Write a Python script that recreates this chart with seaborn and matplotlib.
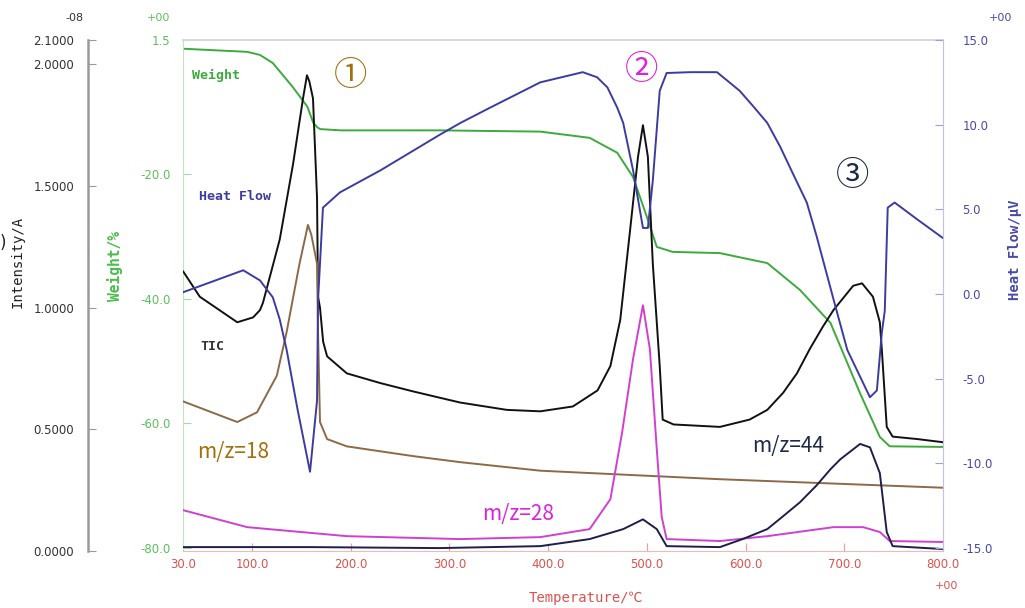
import numpy as np
import pandas as pd
import matplotlib
matplotlib.use("Agg")
import matplotlib.pyplot as plt
import seaborn as sns

# values
wt_temp = [30, 95, 108, 121, 141, 148, 156, 162, 166, 169, 190, 290, 392, 442, 470, 486,
           500, 510, 526, 574, 622, 655, 686, 716, 736, 746, 800]
wt_pct = [0.1, -0.4, -0.9, -2.2, -6.0, -7.5, -9.2, -11.8, -12.5, -12.8, -13.0, -13.0, -13.2,
          -14.2, -16.6, -20.5, -26.9, -31.7, -32.5, -32.7, -34.3, -38.6, -43.9, -55.2,
          -62.2, -63.7, -63.8]

hf_temp = [30, 91, 108, 121, 128, 135, 146, 158.7, 165.8, 166.8, 171.8, 189, 230, 290, 311,
           341, 392, 435, 449.5, 460, 470, 476, 486, 496, 501, 506, 513, 520, 544, 571, 594,
           607.5, 622, 635, 648, 662, 672, 689, 703, 726, 733, 738, 741, 744, 751, 774, 800]
hf_uv = [0.1, 1.4, 0.8, -0.2, -1.5, -3.3, -6.8, -10.5, -6.3, -0.4, 5.1, 6.0, 7.3, 9.4, 10.1,
         11.0, 12.5, 13.1, 12.8, 12.2, 11.0, 10.1, 7.3, 3.9, 3.9, 6.7, 12.0, 13.05, 13.1, 13.1,
         12.0, 11.1, 10.1, 8.7, 7.1, 5.4, 3.4, -0.3, -3.3, -6.1, -5.7, -2.3, -1.0, 5.1, 5.4,
         4.4, 3.3]

tic_temp = [30, 47, 85, 101, 108, 111, 128, 141.5, 151.6, 155.6, 158, 161.7, 165.8, 166.8,
            168.8, 172, 176, 196, 230, 263, 290, 311, 358, 392, 425, 450, 463, 473, 483,
            491, 496, 501, 506, 513, 516, 527, 574, 604, 622, 638, 652, 665, 678, 689, 709,
            718, 729, 736, 738, 743, 749, 774, 800]
tic_int = [1.15, 1.045, 0.94, 0.96, 0.99, 1.02, 1.28, 1.59, 1.86, 1.955, 1.93, 1.86, 1.45,
           1.045, 1.0, 0.86, 0.80, 0.73, 0.69, 0.656, 0.63, 0.61, 0.58, 0.574, 0.594, 0.66,
           0.76, 0.95, 1.32, 1.62, 1.75, 1.62, 1.18, 0.76, 0.54, 0.52, 0.51, 0.54, 0.58, 0.65,
           0.73, 0.83, 0.92, 0.99, 1.09, 1.10, 1.045, 0.94, 0.83, 0.51, 0.47, 0.46, 0.447]

mz18_temp = [30, 85, 105, 125, 135, 148, 156.6, 160, 165.8, 166.8, 168.8, 176, 196, 263, 311,
             392, 496, 574, 800]
mz18_int = [0.615, 0.53, 0.57, 0.72, 0.90, 1.18, 1.34, 1.30, 1.18, 0.9, 0.53, 0.46, 0.43,
            0.39, 0.365, 0.33, 0.31, 0.295, 0.26]

mz28_temp = [30, 95, 196, 311, 392, 442, 463, 475, 486, 496, 503, 510, 515, 520, 574, 622,
             689, 719, 736, 746, 800]
mz28_int = [0.168, 0.098, 0.061, 0.049, 0.057, 0.09, 0.213, 0.49, 0.79, 1.01, 0.83, 0.42,
            0.14, 0.049, 0.041, 0.061, 0.098, 0.098, 0.078, 0.041, 0.037]

mz44_temp = [30, 160, 290, 392, 442, 476, 496, 510, 520, 574, 597, 622, 638, 655, 672, 686,
             696, 716, 726, 736, 743, 749, 800]
mz44_int = [0.016, 0.016, 0.012, 0.02, 0.049, 0.09, 0.13, 0.09, 0.02, 0.016, 0.049, 0.09,
            0.143, 0.20, 0.27, 0.336, 0.377, 0.44, 0.426, 0.32, 0.078, 0.02, 0.008]

x_ticks = [30, 100, 200, 300, 400, 500, 600, 700, 800]
wt_ticks = [-80, -60, -40, -20, 1.5]
int_ticks = [0.0, 0.5, 1.0, 1.5, 2.0, 2.1]
hf_ticks = [-15, -10, -5, 0, 5, 10, 15]

W, H = 1025, 608
sns.set_style("white")
plt.rcParams["font.family"] = ["DejaVu Sans", "Noto Sans CJK JP"]
MONO = ["DejaVu Sans Mono", "Noto Sans CJK JP"]
CJK = ["Noto Sans CJK JP", "DejaVu Sans"]

C_WT = "#3daa3d"
C_HF = "#3c3ca0"
C_TIC = "#111111"
C_18 = "#8c6a48"
C_28 = "#d040d0"
C_44 = "#1e1e4c"


def fx(px):
    return px / W


def fy(py):
    return 1 - py / H


fig = plt.figure(figsize=(W / 100, H / 100), dpi=100)
ax_w = fig.add_axes([fx(183), fy(551), 760 / W, 511 / H])
ax_i = ax_w.twinx()
ax_h = ax_w.twinx()

# weight axis (main, left)
sns.lineplot(x=wt_temp, y=wt_pct, ax=ax_w, color=C_WT, lw=1.4, sort=False, estimator=None)
ax_w.set_xlim(30, 800)
ax_w.set_ylim(-80.5, 1.5)
ax_w.set_xticks(x_ticks)
ax_w.set_xticklabels([f"{t:.1f}" for t in x_ticks])
ax_w.set_yticks(wt_ticks)
ax_w.set_yticklabels(["-80.0", "-60.0", "-40.0", "-20.0", "1.5"])
ax_w.tick_params(axis="x", direction="in", length=6, color="#e8a0a0", labelcolor="#d9534f",
                 labelsize=8.5, pad=5, bottom=True)
ax_w.tick_params(axis="y", direction="in", length=6, color="#a8d8a8", labelcolor="#5cbf5c",
                 labelsize=8.5, pad=9, left=True)
ax_w.spines["left"].set_color("#bfe6bf")
ax_w.spines["bottom"].set_color("#f0b8b8")
ax_w.spines["top"].set_color("#d8d8d8")
ax_w.spines["top"].set_linewidth(1.5)
ax_w.spines["right"].set_visible(False)

# intensity axis (outer left)
for x_, y_, c_ in [(tic_temp, tic_int, C_TIC), (mz18_temp, mz18_int, C_18),
                   (mz28_temp, mz28_int, C_28), (mz44_temp, mz44_int, C_44)]:
    sns.lineplot(x=x_, y=y_, ax=ax_i, color=c_, lw=1.4, sort=False, estimator=None)
ax_i.set_ylim(0, 2.1)
ax_i.yaxis.set_label_position("left")
ax_i.yaxis.set_ticks_position("left")
ax_i.spines["left"].set_position(("axes", -95 / 760))
ax_i.spines["left"].set_visible(True)
ax_i.spines["left"].set_color("#9a9a9a")
ax_i.spines["left"].set_linewidth(1.8)
for s in ["right", "top", "bottom"]:
    ax_i.spines[s].set_visible(False)
ax_i.set_yticks(int_ticks)
ax_i.set_yticklabels([f"{t:.4f}" for t in int_ticks])
ax_i.tick_params(axis="y", direction="in", length=6, color="#9a9a9a", labelcolor="#333333",
                 labelsize=8.5, pad=10)

# heat flow axis (right)
sns.lineplot(x=hf_temp, y=hf_uv, ax=ax_h, color=C_HF, lw=1.4, sort=False, estimator=None)
ax_h.set_ylim(-15.18, 15)
ax_h.set_yticks(hf_ticks)
ax_h.set_yticklabels([f"{t:.1f}" for t in hf_ticks])
ax_h.tick_params(axis="y", direction="in", length=6, color="#a0a0d0", labelcolor="#4848a8",
                 labelsize=8.5, pad=14)
ax_h.spines["right"].set_color("#c0c0e8")
for s in ["left", "top", "bottom"]:
    ax_h.spines[s].set_visible(False)

for a in (ax_w, ax_i, ax_h):
    a.set_xlabel("")
    a.set_ylabel("")

# axis titles and exponent marks
fig.text(fx(18), fy(262), "Intensity/A", rotation=90, ha="center", va="center",
         color="#222222", fontsize=10, family=MONO)
fig.text(fx(0), fy(243), ")", ha="left", va="center", color="#222222", fontsize=12)
fig.text(fx(115), fy(266), "Weight/%", rotation=90, ha="center", va="center",
         color="#4cbc4c", fontsize=10.5, family=MONO, weight="bold")
fig.text(fx(1015), fy(250), "Heat Flow/μV", rotation=90, ha="center", va="center",
         color="#4848a8", fontsize=10, family=MONO, weight="bold")
fig.text(fx(586), fy(598), "Temperature/℃", ha="center", va="center",
         color="#d9534f", fontsize=10, family=MONO)
fig.text(fx(75), fy(18), "-08", ha="center", va="center", color="#333333", fontsize=8)
fig.text(fx(158), fy(18), "+00", ha="center", va="center", color="#5cbf5c", fontsize=8)
fig.text(fx(1000), fy(18), "+00", ha="center", va="center", color="#4848a8", fontsize=8)
fig.text(fx(946), fy(586), "+00", ha="center", va="center", color="#d9534f", fontsize=8)

# curve labels inside the plot
fig.text(fx(192), fy(75), "Weight", ha="left", va="center", color=C_WT, fontsize=9.5,
         family=MONO, weight="bold")
fig.text(fx(199), fy(196), "Heat Flow", ha="left", va="center", color=C_HF, fontsize=9.5,
         family=MONO, weight="bold")
fig.text(fx(200), fy(347), "TIC", ha="left", va="center", color="#333333", fontsize=9.5,
         family=MONO, weight="bold")
fig.text(fx(197), fy(452), "m/z=18", ha="left", va="center", color="#a0700a", fontsize=15,
         family=CJK)
fig.text(fx(482), fy(514), "m/z=28", ha="left", va="center", color="#dd22dd", fontsize=15,
         family=CJK)
fig.text(fx(752), fy(446), "m/z=44", ha="left", va="center", color="#1e2a48", fontsize=15,
         family=CJK)
fig.text(fx(351), fy(75), "①", ha="center", va="center", color="#a0700a", fontsize=24,
         family=CJK)
fig.text(fx(642), fy(70), "②", ha="center", va="center", color="#dd22dd", fontsize=24,
         family=CJK)
fig.text(fx(853), fy(175), "③", ha="center", va="center", color="#1e2a48", fontsize=24,
         family=CJK)

fig.savefig("out.png", dpi=100)
